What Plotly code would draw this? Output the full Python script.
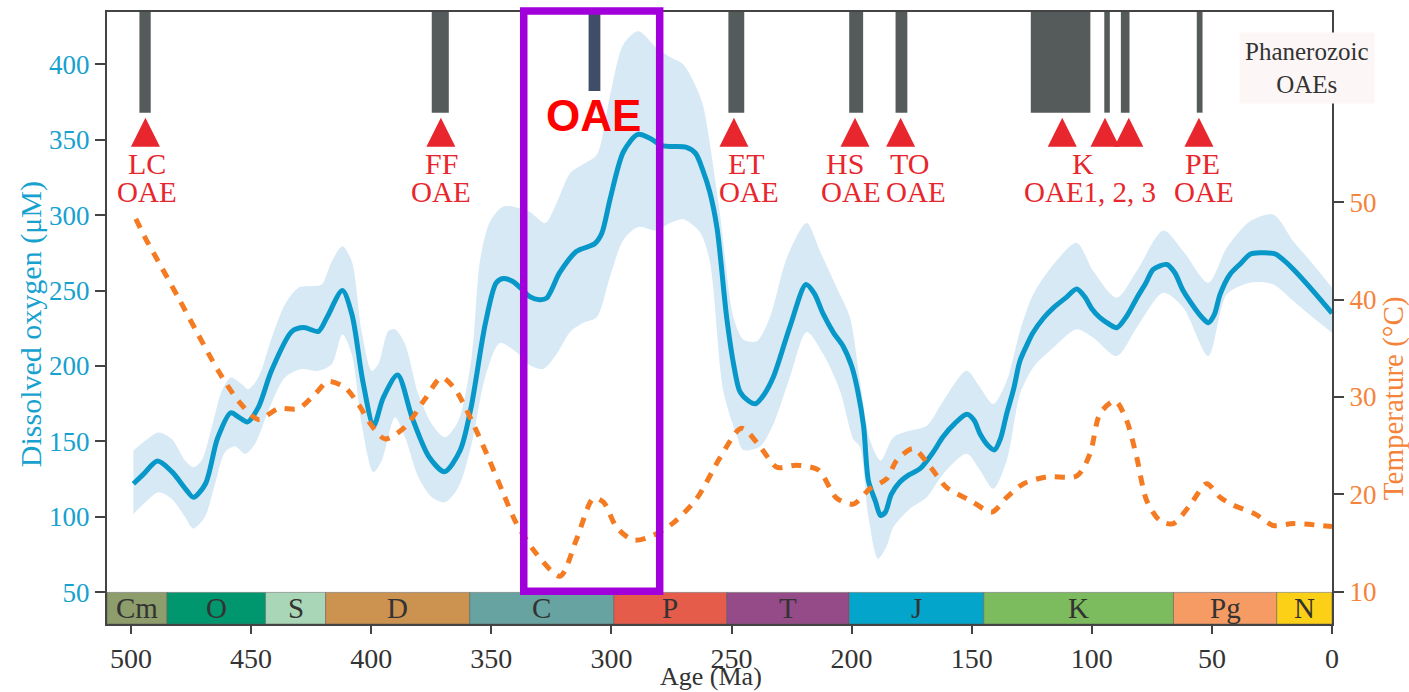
import plotly.graph_objects as go

# ---------------- data ----------------
# Dissolved oxygen (uM), central estimate
o2_age = [499, 495, 489, 483, 477, 474, 469, 464, 458.5, 455, 451.5, 447, 441.5, 433, 428,
          422, 418.5, 412, 408, 403.5, 399, 395, 389, 383, 376, 369.5, 363, 358.5, 352.5,
          348, 345, 341, 338, 334, 330, 327, 321.5, 314.5, 307, 304, 300.5, 295, 289, 284,
          279, 274, 269, 265, 262, 259, 256, 252, 249, 246.5, 243, 240, 236.5, 232.5, 225.5,
          219, 215.5, 212, 207.5, 203.5, 200, 197.5, 195, 193, 190, 188, 186, 183.5, 180,
          176, 171.5, 166, 162, 157, 152, 149, 146.5, 143, 140.5, 138, 135.5, 132.5, 130,
          127, 124.5, 120, 116, 111, 106.3, 103, 100, 96.6, 93, 89.6, 85.5, 81.3, 77.5, 74.4,
          68.8, 65.5, 62, 57, 54, 51.5, 49, 46.6, 42.5, 38, 34.1, 30, 23.7, 20, 16, 8, 0]
o2_val = [122, 128, 137, 130, 118, 113, 122, 152, 169, 166, 163, 172.6, 197, 223, 225.5,
          223, 232, 250, 234, 190, 160.5, 179, 194, 166, 140, 130, 144, 172, 228,
          255, 258, 256, 252, 246, 244, 245, 262, 276, 281, 288, 311, 342, 353.5, 351,
          346, 345.5, 345, 341, 330, 315, 291, 232, 200, 183, 177, 175, 181, 193, 227,
          254, 248, 235, 222, 213, 200, 184, 160, 124, 110, 101, 103, 115, 123,
          128, 132, 143, 153, 162, 168, 164, 155, 147, 144.4, 152, 168, 185, 203,
          214, 222, 232, 238.6, 245, 251, 246, 238, 232, 228, 225.4, 233, 245, 255, 264,
          267.3, 262, 250, 238, 232, 228.7, 234, 247.5, 260.7, 268, 274, 275, 274.3, 270, 264, 250, 235]

# Upper and lower bounds of the oxygen uncertainty envelope
up_age = [499, 494, 488.6, 483, 477.5, 474, 470.6, 466.4, 462.2, 458.4, 453.9, 451.2, 447,
          441.4, 435.9, 430.3, 424.8, 420.6, 416.4, 412, 408.1, 404, 399.8, 397, 392.9, 390.1,
          385.9, 380.4, 374.8, 369.3, 363.7, 358.2, 354.7, 350.5, 345, 338.1, 333.9, 327.6,
          322.8, 317.2, 311.7, 306.1, 300.6, 295, 288.8, 281.2, 275.6, 270.1, 264.5, 261.7,
          259, 254.8, 249.2, 245.1, 239.5, 234, 227, 218.7, 213.2, 206.2, 200.7, 196.5, 192.3,
          187.9, 182.6, 175.7, 168.7, 161.8, 152.1, 146.5, 141, 135.4, 129.9, 124.4, 116,
          106.3, 99.4, 89.6, 81.3, 70.2, 61.9, 51.5, 43.8, 34.1, 24.4, 16.1, 7.8, 0]
up_val = [144, 150.6, 156, 151.7, 137.4, 133, 137.4, 159.4, 183.6, 192.4, 188, 184.7, 192.4,
          218.8, 240.9, 251.9, 253, 254.1, 269.5, 279.4, 269.5, 223.2, 196.8, 201.3, 223.2, 224.4,
          214.5, 181.4, 161.6, 152.8, 163.8, 205.6, 270, 295.9, 305.7, 304.5, 302, 294.7,
          308.1, 327.7, 333.8, 340, 379, 413.3, 421.9, 410.9, 404.7, 399.9, 384, 371.7,
          347.3, 300.8, 232.3, 217.6, 216.4, 232.3, 271.5, 294.7, 276.3, 251.9, 232.3, 190, 150.6,
          137.4, 152.8, 157.2, 160.5, 177, 196.8, 185.8, 174.8, 190.2, 223.2, 247.5, 267.3,
          281.6, 262.9, 245.2, 262.9, 289.8, 276.1, 255.2, 278.3, 295.9, 300.3, 282.7, 267.3, 251.9]

lo_age = [499, 494, 488.6, 483.1, 477.5, 474.1, 469.3, 465, 460.9, 456.7, 452.5, 448.4,
          442.8, 435.9, 428.9, 422, 416.4, 412, 408.1, 404, 399.1, 395.6, 390.1, 385.9,
          380.4, 374.8, 369.3, 363.7, 358.2, 352.6, 346.4, 339.4, 333.9, 328.3, 322.8,
          317.2, 311.7, 306.1, 300.6, 295, 288.8, 281.2, 275.6, 270.1, 263.1, 259, 253.4,
          247.8, 245.1, 238.1, 232.6, 225.6, 218.7, 211.8, 204.8, 199.3, 196.5, 193, 189,
          185.4, 182.6, 175.7, 168.7, 161.8, 152.1, 146.5, 141, 135.4, 129.9, 124.4, 116,
          106.3, 99.4, 89.6, 81.3, 70.2, 61.9, 51.5, 43.8, 34.1, 24.4, 16.1, 7.8, 0]
lo_val = [102, 109.8, 116.4, 112.1, 99.9, 92.3, 99.9, 122, 142.9, 146.8, 141.8, 148.4,
          170.4, 192.4, 198, 196.8, 201.3, 221.1, 207.9, 161.6, 129.7, 137.4, 166, 152.8,
          126.4, 113.1, 109.8, 119.7, 148.4, 192.4, 215.2, 209, 200.5, 198.1, 207.9,
          222.5, 228.6, 232.3, 259.2, 283.7, 292.2, 289.8, 294.7, 297.2, 288.6, 269, 183.4,
          154, 144.3, 146.7, 161.4, 193.1, 222.5, 207.9, 183.4, 151.6, 146.2, 100, 72.3,
          80.6, 93.3, 105.5, 113.1, 128.6, 141.8, 130.8, 118.7, 137.4, 181.4, 199, 212.2,
          224.4, 218.8, 206.7, 225.4, 248.5, 238.6, 206.7, 247.5, 255.2, 254.1, 243.1, 232, 222.1]

# Temperature (deg C)
t_age = [498, 494, 488.6, 480.3, 472, 463.7, 455.3, 447, 438.7, 430.4, 423.4, 417.9, 411,
         405.4, 399.9, 394.3, 386, 377.6, 370.7, 365.1, 358.2, 351.3, 345, 339.5, 331.2,
         321.4, 314.5, 307.5, 303.3, 297.8, 290.8, 282.5, 274.1, 264.4, 254.7, 245.8, 238.1,
         231.2, 222.9, 213.8, 206.2, 199.3, 192.3, 185.4, 181.2, 174.3, 167.2, 160.4, 150.7,
         141.6, 135.4, 128.4, 118.7, 106.2, 100.7, 96.6, 90.3, 85.5, 81.3, 77.2, 71.6, 66.1,
         59.1, 52.2, 46.6, 41.1, 32.1, 24.4, 16.1, 0]
t_val = [48.3, 46.3, 43.9, 40.2, 36.4, 32.7, 29.6, 27.7, 28.8, 28.8, 30.3, 31.6, 31,
         29.3, 27.1, 25.7, 26.9, 29.8, 32, 30.8, 27.6, 23.8, 20.1, 17, 13.9,
         11.6, 15.4, 19.6, 19.2, 16.6, 15.3, 15.8, 17.1, 19.6, 23.8, 26.8, 24.9,
         22.8, 23, 22.5, 19.6, 19, 20.6, 21.6, 23.5, 24.7, 22.8, 20.7, 19.4,
         18.2, 19.7, 21.1, 21.8, 21.9, 24.2, 28.3, 29.6, 27.6, 23.8, 19.4, 17.3, 17,
         18.9, 21.1, 19.7, 18.9, 18, 16.8, 17, 16.7]

# Geologic periods (Ma)
period_names = ["Cm", "O", "S", "D", "C", "P", "T", "J", "K", "Pg", "N"]
period_start = [510, 485, 444, 419, 359, 299, 252, 201, 145, 66, 23]
period_end = [485, 444, 419, 359, 299, 252, 201, 145, 66, 23, 0]
period_colors = ["#8d9d6b", "#00976f", "#a9d6b7", "#cc924f", "#67a3a1", "#e65c4a",
                 "#944b88", "#03a5ca", "#7cbb5e", "#f69b63", "#fcd016"]

# Phanerozoic oceanic anoxic events (Ma)
oae_start = [496.5, 374.8, 251.3, 201.0, 181.7, 125.4, 94.8, 87.9, 56.3]
oae_end = [491.8, 367.7, 244.7, 195.2, 176.8, 100.6, 92.5, 84.3, 53.9]
marker_age = [494, 371, 249, 198.6, 179.6, 112.3, 94.5, 84.6, 55.4]
event_names = ["LC", "FF", "ET", "HS", "TO", "K", "PE"]
event_name_age = [493.3, 370.9, 243.8, 202.7, 175.7, 103.7, 54.1]
event_sub = ["OAE", "OAE", "OAE", "OAE", "OAE", "OAE1, 2, 3", "OAE"]
event_sub_age = [493.3, 370.9, 242.6, 200.2, 173.2, 100.7, 53.3]

# Late Paleozoic OAE interval
lp_oae = [309.5, 304.6]
lp_window = [336.5, 279.9]

x_ticks = [500, 450, 400, 350, 300, 250, 200, 150, 100, 50, 0]
o2_ticks = [50, 100, 150, 200, 250, 300, 350, 400]
t_ticks = [10, 20, 30, 40, 50]

# ---------------- style ----------------
SERIF = "Liberation Serif"
BLUE = "#0797c8"
BLUE_TXT = "#16a1cf"
BAND = "#d6e9f5"
ORANGE = "#f47b22"
ORANGE_TXT = "#f5843a"
RED = "#e8262d"
AXIS = "#444444"
X_RANGE = [510, 0]
O2_RANGE = [29.06, 434.6]
T_RANGE = [6.69, 69.54]
MARKER_LEVEL = 364.6

fig = go.Figure()

# uncertainty envelope
fig.add_trace(go.Scatter(x=up_age, y=up_val, mode="lines", line=dict(width=0, shape="spline", smoothing=0.8),
                         hoverinfo="skip", showlegend=False))
fig.add_trace(go.Scatter(x=lo_age, y=lo_val, mode="lines", line=dict(width=0, shape="spline", smoothing=0.8),
                         fill="tonexty", fillcolor=BAND, hoverinfo="skip", showlegend=False))
# oxygen curve
fig.add_trace(go.Scatter(x=o2_age, y=o2_val, mode="lines",
                         line=dict(color=BLUE, width=5, shape="spline", smoothing=0.8),
                         showlegend=False))
# temperature curve
fig.add_trace(go.Scatter(x=t_age, y=t_val, mode="lines", yaxis="y2",
                         line=dict(color=ORANGE, width=5, dash="10px,9px", shape="spline", smoothing=0.8),
                         showlegend=False))
# OAE markers
fig.add_trace(go.Scatter(x=marker_age, y=[MARKER_LEVEL] * len(marker_age), mode="markers",
                         marker=dict(symbol="arrow-up", size=29, color=RED, line=dict(width=0)),
                         showlegend=False, cliponaxis=False))

shapes = []
annotations = []

# geologic time scale
for name, s, e, c in zip(period_names, period_start, period_end, period_colors):
    shapes.append(dict(type="rect", xref="x", yref="y", x0=s, x1=e, y0=O2_RANGE[0], y1=50,
                       fillcolor=c, line=dict(color="rgba(90,90,90,0.5)", width=1), layer="above"))
    annotations.append(dict(x=(s + e) / 2, y=(O2_RANGE[0] + 50) / 2, xref="x", yref="y",
                            text=name, showarrow=False, font=dict(family=SERIF, size=29, color="#333333"),
                            yanchor="middle"))

# OAE bars along the top
for s, e in zip(oae_start, oae_end):
    shapes.append(dict(type="rect", xref="x", yref="paper", x0=s, x1=e, y0=0.8355, y1=1.0,
                       fillcolor="#555a5a", line=dict(width=0), layer="above"))
shapes.append(dict(type="rect", xref="x", yref="paper", x0=lp_oae[0], x1=lp_oae[1], y0=0.871, y1=0.998,
                   fillcolor="#3f4e66", line=dict(width=0), layer="above"))
# highlighted interval
shapes.append(dict(type="rect", xref="x", yref="paper", x0=lp_window[0], x1=lp_window[1], y0=0.0535, y1=1.0016,
                   fillcolor="rgba(0,0,0,0)", line=dict(color="#a100da", width=7.5), layer="above"))

for name, a in zip(event_names, event_name_age):
    annotations.append(dict(x=a, y=0.7524, xref="x", yref="paper", text=name, showarrow=False,
                            font=dict(family=SERIF, size=30, color=RED), yanchor="middle"))
for name, a in zip(event_sub, event_sub_age):
    annotations.append(dict(x=a, y=0.7052, xref="x", yref="paper", text=name, showarrow=False,
                            font=dict(family=SERIF, size=29, color=RED), yanchor="middle"))

annotations.append(dict(x=sum(lp_oae) / 2 + 0.4, y=0.8314, xref="x", yref="paper", text="<b>OAE</b>",
                        showarrow=False, yanchor="middle",
                        font=dict(family="Liberation Sans", size=44, color="#ff0000")))

annotations.append(dict(x=0.9796, y=0.909, xref="paper", yref="paper", text="Phanerozoic<br>OAEs",
                        showarrow=False, bgcolor="#fcf7f6", font=dict(family=SERIF, size=25, color="#333333"),
                        borderpad=5, xanchor="center", yanchor="middle"))

# axis titles
annotations.append(dict(x=-0.0615, y=0.4894, xref="paper", yref="paper", text="Dissolved oxygen (μM)",
                        textangle=-90, showarrow=False, font=dict(family=SERIF, size=30, color=BLUE_TXT),
                        xanchor="center", yanchor="middle"))
annotations.append(dict(x=1.0498, y=0.369, xref="paper", yref="paper", text="Temperature (°C)",
                        textangle=-90, showarrow=False, font=dict(family=SERIF, size=29, color=ORANGE_TXT),
                        xanchor="center", yanchor="middle"))
annotations.append(dict(x=0.4931, y=-0.0863, xref="paper", yref="paper", text="Age (Ma)",
                        showarrow=False, font=dict(family=SERIF, size=26, color="#333333"),
                        xanchor="center", yanchor="middle"))

fig.update_layout(
    width=1409, height=692,
    margin=dict(l=107, r=77, t=10, b=68),
    paper_bgcolor="white", plot_bgcolor="white",
    shapes=shapes, annotations=annotations,
    xaxis=dict(range=X_RANGE, tickvals=x_ticks, ticks="outside", ticklen=8, tickwidth=2,
               tickcolor=AXIS, showline=True, linecolor=AXIS, linewidth=2, mirror=True,
               showgrid=False, zeroline=False,
               tickfont=dict(family=SERIF, size=28, color="#333333")),
    yaxis=dict(range=O2_RANGE, tickvals=o2_ticks, ticks="outside", ticklen=10, tickwidth=2,
               tickcolor=AXIS, showline=True, linecolor=AXIS, linewidth=2,
               showgrid=False, zeroline=False,
               tickfont=dict(family=SERIF, size=27, color=BLUE_TXT)),
    yaxis2=dict(range=T_RANGE, tickvals=t_ticks, overlaying="y", side="right", ticks="outside",
                ticklen=10, tickwidth=2, tickcolor=AXIS, showline=True, linecolor=AXIS, linewidth=2,
                showgrid=False, zeroline=False,
                tickfont=dict(family=SERIF, size=27, color=ORANGE_TXT)),
)

fig.write_html("out.html")
